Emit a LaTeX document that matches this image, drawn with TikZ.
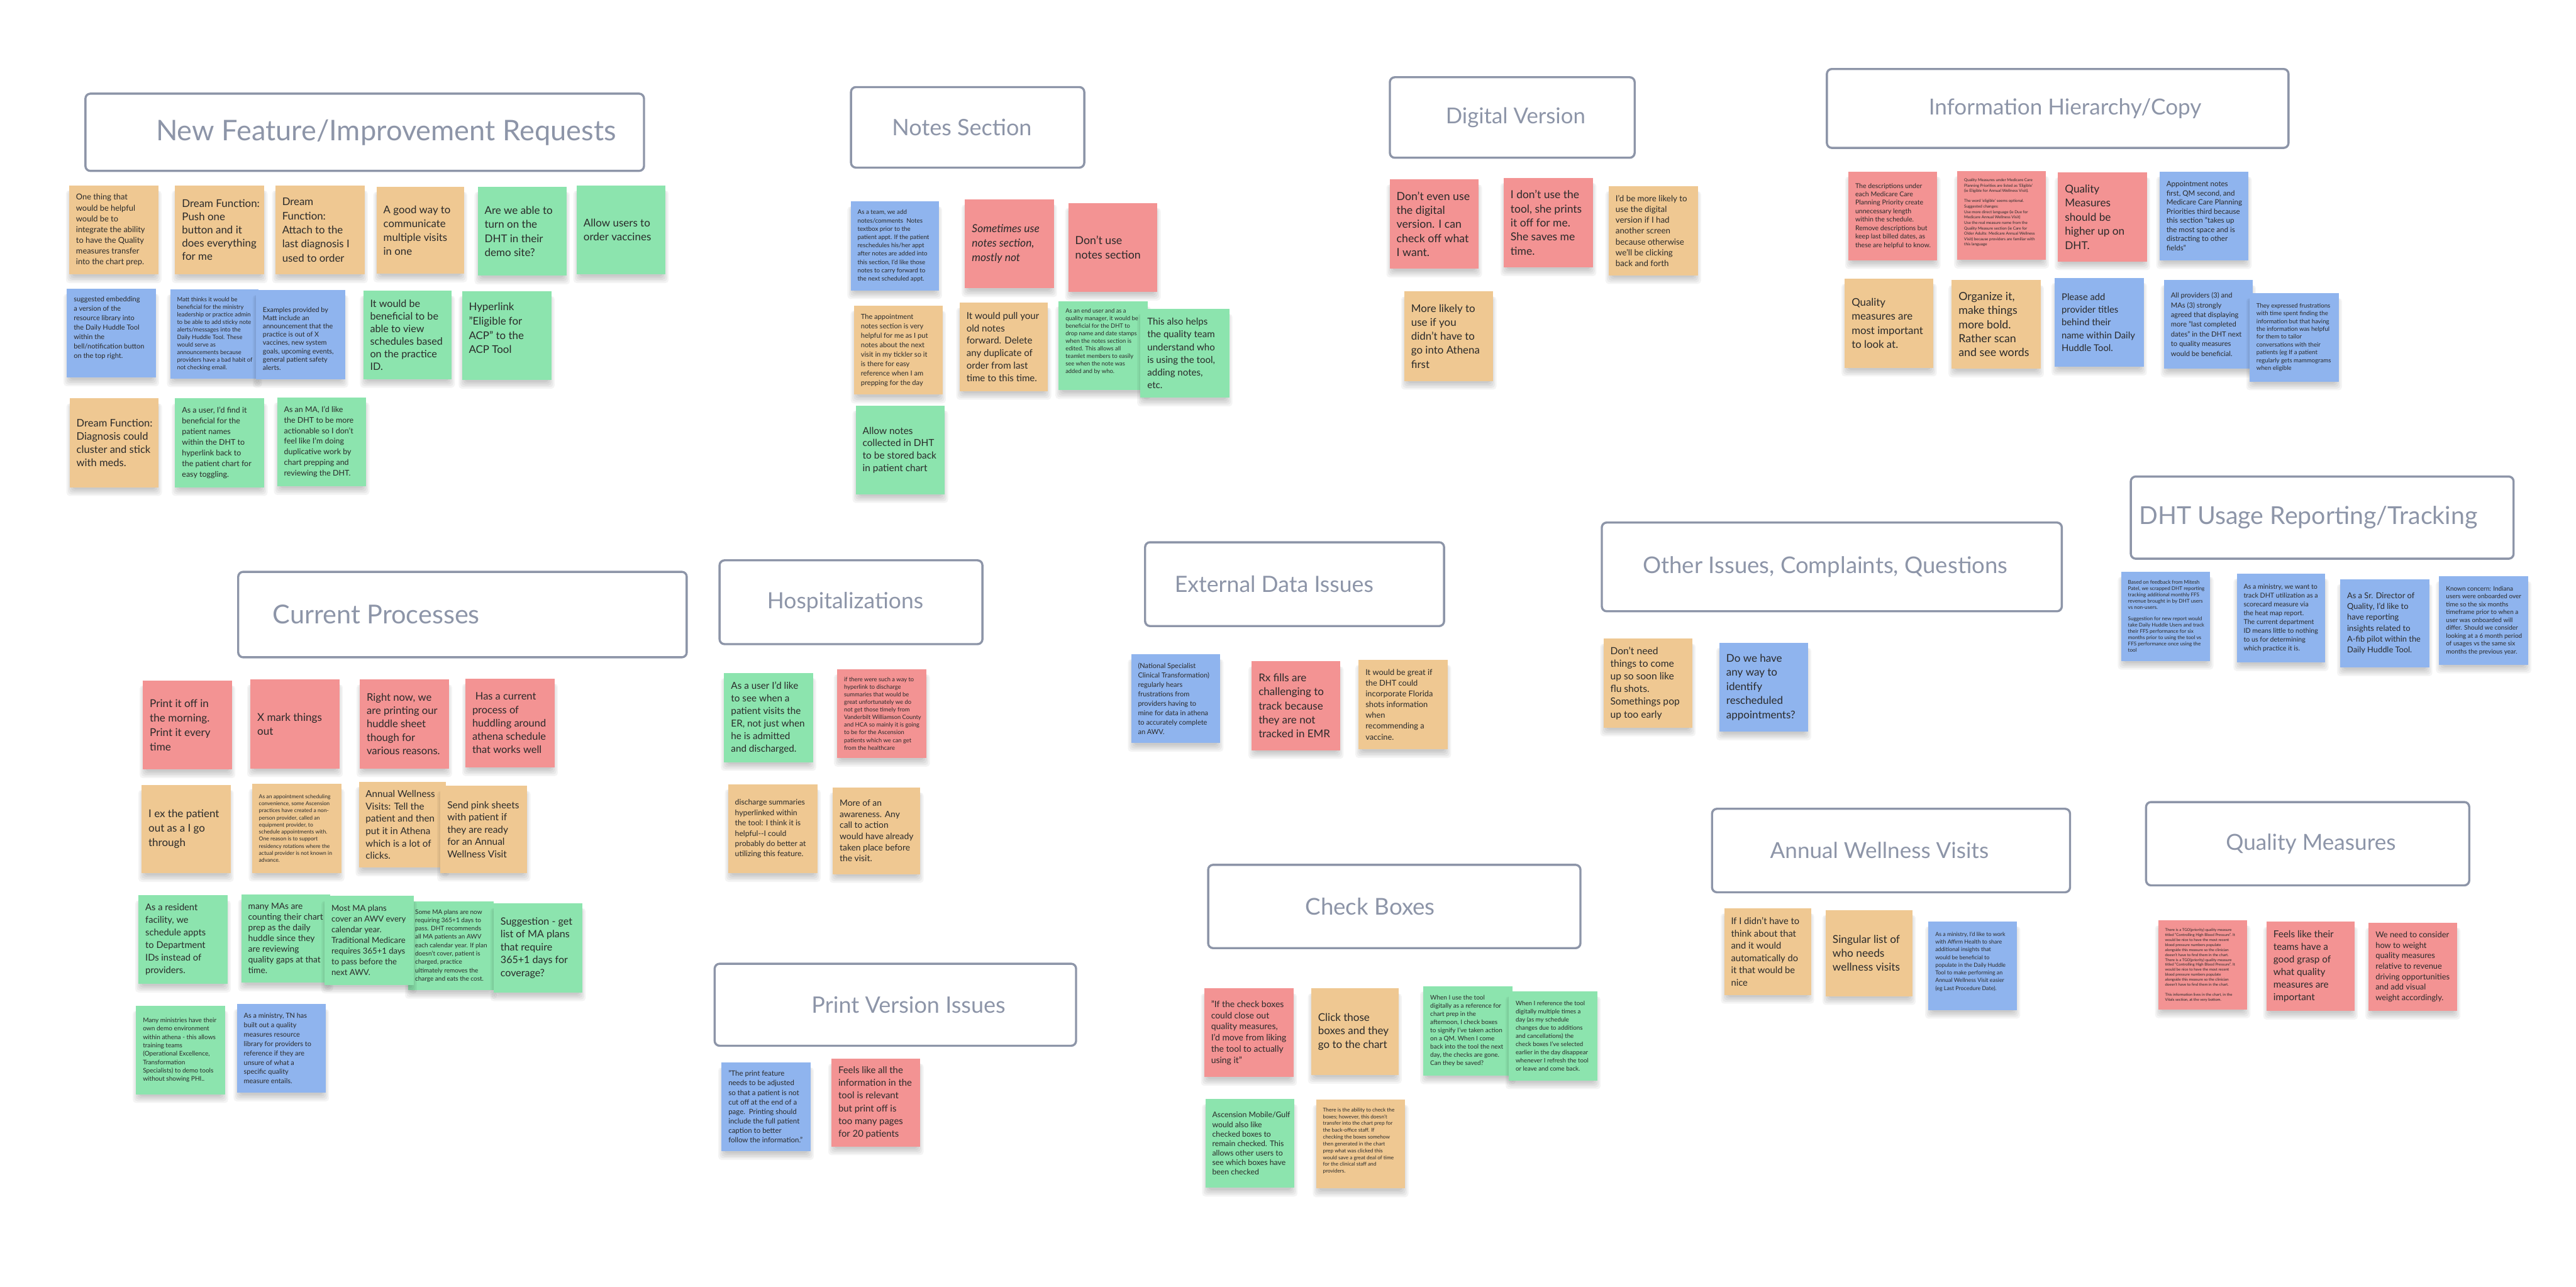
\documentclass[tikz,border=0pt]{standalone}
\usepackage{fontspec}
\setmainfont{Lato}
\usepackage{graphicx}
\definecolor{cOc}{HTML}{EFC892}
\definecolor{cGc}{HTML}{8CE4AE}
\definecolor{cBc}{HTML}{8FB4EE}
\definecolor{cRc}{HTML}{F39393}
\definecolor{ink}{HTML}{2A2A2A}
\definecolor{ttl}{HTML}{8D95A8}
\newcommand\fs[2]{\fontsize{#1}{#2}\selectfont}
\tikzset{
  stkbox/.style={rectangle,draw=none,inner sep=0pt},
  cO/.style={fill=cOc}, cG/.style={fill=cGc}, cB/.style={fill=cBc}, cR/.style={fill=cRc},
  stktxt/.style={inner sep=0pt,align=left,text=ink,anchor=west},
  ttlbox/.style={rectangle,draw=ttl,line width=1.3mm,rounded corners=3mm,fill=white,inner sep=0pt},
  ttltxt/.style={text=ttl,inner sep=0pt}
}
% sticky note: [dy]{name}{colour}{x1}{y1}{x2}{y2}{{size}{skip}}{text}
\newcommand\stk[9][0]{%
  \foreach \k in {1,2,3,4,5}{\fill[black,opacity=0.045,rounded corners=2mm]
     ({#4+2.5-0.9*\k},{#5+3}) rectangle ({#6-2.5+0.9*\k},{#7+0.3+1.0*\k});}
  \pgfmathsetmacro\stkw{#6-#4}\pgfmathsetmacro\stkh{#7-#5}%
  \node[stkbox,#3,minimum width=\stkw mm,minimum height=\stkh mm] (#2) at ({(#4+#6)/2},{(#5+#7)/2}) {};
  \node[stktxt,font={\fs#8}] (#2t) at ([xshift=4.2mm,yshift={-1*(#1)*1mm}]#2.west) {#9};
}
% title: {name}{x1}{y1}{x2}{y2}{text cx}{text width}{text}
\newcommand\ttl[8]{%
  \pgfmathsetmacro\ttw{#4-#2}\pgfmathsetmacro\tth{#5-#3}%
  \node[ttlbox,minimum width=\ttw mm,minimum height=\tth mm] (#1) at ({(#2+#4)/2},{(#3+#5)/2}) {};
  \node[ttltxt] (#1t) at (#6,{(#3+#5)/2}) {\resizebox{#7mm}{!}{\fontsize{40}{48}\selectfont #8}};
}
\begin{document}
\begin{tikzpicture}[x=1mm,y=-1mm]
\fill[white] (0,0) rectangle (1568,783);
\useasboundingbox (0,0) rectangle (1568,783);

% ---------------- titles
\ttl{t1}{52}{57}{392}{104}{235}{280}{New Feature/Improvement  Requests}
\ttl{t2}{518}{53}{660}{102}{585.5}{85}{Notes Section}
\ttl{t3}{846}{47}{995}{96}{922.5}{85}{Digital Version}
\ttl{t4}{1112}{42}{1393}{90}{1257}{166}{Information Hierarchy/Copy}
\ttl{t5}{145}{348}{418}{400}{229}{126}{Current Processes}
\ttl{t6}{438}{341}{598}{392}{514.5}{95}{Hospitalizations}
\ttl{t7}{697}{330}{879}{381}{775.5}{121}{External Data Issues}
\ttl{t8}{975}{318}{1255}{372}{1111}{222}{Other Issues, Complaints, Questions}
\ttl{t9}{1297}{290}{1530}{340}{1405}{206}{DHT Usage Reporting/Tracking}
\ttl{t10}{735.4}{526.3}{962}{577}{834}{79}{Check Boxes}
\ttl{t11}{435}{586.5}{655}{636.4}{553}{118}{Print Version Issues}
\ttl{t12}{1042.1}{492.2}{1260}{543}{1144}{133}{Annual Wellness Visits}
\ttl{t13}{1306.3}{488.1}{1503}{538.8}{1406.6}{103.4}{Quality Measures}

% ---------------- New Feature / Improvement Requests
\stk{n1}{cO}{42.1}{112.9}{96.3}{167.0}{{14}{18.6}}{One thing that\\would be helpful\\would be to\\integrate the ability\\to have the Quality\\measures transfer\\into the chart prep.}
\stk{n2}{cO}{106.6}{112.9}{160.9}{167.0}{{18.4}{22.9}}{Dream Function:\\Push one\\button and it\\does everything\\for me}
\stk{n3}{cO}{167.6}{112.9}{221.9}{167.0}{{18.3}{24.3}}{Dream\\Function:\\Attach to the\\last diagnosis I\\used to order}
\stk{n4}{cO}{229.2}{113.7}{282.4}{166.5}{{18.3}{24}}{A good way to\\communicate\\multiple visits\\in one}
\stk{n5}{cG}{290.8}{113.7}{344.9}{167.8}{{18.5}{24.4}}{Are we able to\\turn on the\\DHT in their\\demo site?}
\stk{n6}{cG}{351.0}{112.9}{405.0}{167.0}{{18.5}{24.4}}{Allow users to\\order vaccines}
\stk[-3.1]{n7}{cB}{40.7}{175.7}{94.8}{229.8}{{12}{16.3}}{suggested embedding\\a version of the\\resource library into\\the Daily Huddle Tool\\within the\\bell/notification button\\on the top right.}
\stk{n8}{cB}{103.6}{176.1}{157.5}{230.3}{{10.3}{13}}{Matt thinks it would be\\beneficial for the ministry\\leadership or practice admin\\to be able to add sticky note\\alerts/messages into the\\Daily Huddle Tool. These\\would serve as\\announcements because\\providers have a bad habit of\\not checking email.}
\stk[2.5]{n9}{cB}{155.8}{176.5}{210.0}{230.7}{{11.8}{14.3}}{Examples provided by\\Matt include an\\announcement that the\\practice is out of X\\vaccines, new system\\goals, upcoming events,\\general patient safety\\alerts.}
\stk{n10}{cG}{221.1}{176.9}{274.9}{230.7}{{17.6}{21.9}}{It would be\\beneficial to be\\able to view\\schedules based\\on the practice\\ID.}
\stk[-4.5]{n11}{cG}{281.2}{177.1}{335.6}{231.3}{{18.4}{24.6}}{Hyperlink\\"Eligible for\\ACP" to the\\ACP Tool}
\stk{n12}{cO}{42.4}{242.5}{96.6}{296.5}{{18}{22.8}}{Dream Function:\\Diagnosis could\\cluster and stick\\with meds.}
\stk{n13}{cG}{106.6}{242.5}{160.9}{296.5}{{13.6}{18.6}}{As a user, I'd find it\\beneficial for the\\patient names\\within the DHT to\\hyperlink back to\\the patient chart for\\easy toggling.}
\stk{n14}{cG}{168.7}{241.8}{222.9}{295.9}{{13.6}{18.4}}{As an MA, I'd like\\the DHT to be more\\actionable so I don't\\feel like I'm doing\\duplicative work by\\chart prepping and\\reviewing the DHT.}

% ---------------- Notes Section
\stk{b1}{cB}{517.8}{122.6}{571.4}{176.7}{{10.7}{14.4}}{As a team, we add\\notes/comments\ \ Notes\\textbox prior to the\\patient appt. If the patient\\reschedules his/her appt\\after notes are added into\\this section, I'd like those\\notes to carry forward to\\the next scheduled appt.}
\stk{r1}{cR}{587.4}{121.4}{641.4}{175.5}{{19}{24.8}}{\itshape Sometimes use\\\itshape notes section,\\\itshape mostly not}
\stk{r2}{cR}{650.3}{123.5}{704.5}{177.6}{{19.3}{24.4}}{Don't use\\notes section}
\stk{o1}{cO}{519.8}{186.1}{573.7}{240.2}{{12.1}{16.3}}{The appointment\\notes section is very\\helpful for me as I put\\notes about the next\\visit in my tickler so it\\is there for easy\\reference when I am\\prepping for the day}
\stk{o2}{cO}{584.1}{184.2}{637.9}{238.0}{{16.4}{21.7}}{It would pull your\\old notes\\forward. Delete\\any duplicate of\\order from last\\time to this time.}
\stk[-2.7]{g1}{cG}{644.4}{183.4}{698.6}{237.5}{{10.2}{13}}{As an end user and as a\\quality manager, it would be\\beneficial for the DHT to\\drop name and date stamps\\when the notes section is\\edited. This allows all\\teamlet members to easily\\see when the note was\\added and by who.}
\stk{g2}{cG}{694.2}{188.0}{748.2}{242.0}{{16.4}{21.9}}{This also helps\\the quality team\\understand who\\is using the tool,\\adding notes,\\etc.}
\stk{g3}{cG}{520.9}{246.8}{575.1}{300.8}{{16.8}{21.4}}{Allow notes\\collected in DHT\\to be stored back\\in patient chart}

% ---------------- Digital Version
\stk{d1}{cR}{845.9}{109.2}{900.1}{163.5}{{19.3}{24.3}}{Don’t even use\\the digital\\version. I can\\check off what\\I want.}
\stk{d2}{cR}{915.3}{108.3}{969.7}{162.7}{{19}{24.3}}{I don’t use the\\tool, she prints\\it off for me.\\She saves me\\time.}
\stk{d3}{cO}{979.2}{113.3}{1033.4}{167.5}{{14.5}{18.8}}{I'd be more likely to\\use the digital\\version if I had\\another screen\\because otherwise\\we'll be clicking\\back and forth}
\stk{d4}{cO}{854.8}{177.4}{908.9}{231.8}{{18.4}{24.3}}{More likely to\\use if you\\didn’t have to\\go into Athena\\first}

% ---------------- Information Hierarchy/Copy
\stk{i1}{cR}{1125.1}{104.4}{1179.2}{158.4}{{11.5}{14.7}}{The descriptions under\\each Medicare Care\\Planning Priority create\\unnecessary length\\within the schedule.\\Remove descriptions but\\keep last billed dates, as\\these are helpful to know.}
\stk[-1.7]{i2}{cR}{1191.4}{104.1}{1245.2}{158.1}{{6.9}{9.4}}{Quality Measures under Medicare Care\\Planning Priorities are listed as 'Eligible'\\(ie Eligible for Annual Wellness Visit).\\[2.8mm]The word 'eligible' seems optional.\\Suggested changes:\\Use more direct language (ie Due for\\Medicare Annual Wellness Visit)\\Use the real measure name from the\\Quality Measure section (ie Care for\\Older Adults: Medicare Annual Wellness\\Visit) because providers are familiar with\\this language}
\stk{i3}{cR}{1252.7}{104.9}{1306.8}{159.1}{{18.7}{24.5}}{Quality\\Measures\\should be\\higher up on\\DHT.}
\stk{i4}{cB}{1314.5}{104.4}{1368.6}{158.4}{{12.6}{15.8}}{Appointment notes\\first, QM second, and\\Medicare Care Planning\\Priorities third because\\this section "takes up\\the most space and is\\distracting to other\\fields"}
\stk{i5}{cO}{1122.9}{169.6}{1176.9}{223.8}{{18.3}{24.5}}{Quality\\measures are\\most important\\to look at.}
\stk{i6}{cO}{1188.0}{170.5}{1242.1}{224.3}{{19.4}{24.2}}{Organize it,\\make things\\more bold.\\Rather scan\\and see words}
\stk{i7}{cB}{1250.7}{169.1}{1304.8}{223.3}{{16.1}{21.9}}{Please add\\provider titles\\behind their\\name within Daily\\Huddle Tool.}
\stk{i8}{cB}{1317.2}{170.5}{1371.2}{224.3}{{12.2}{16.8}}{All providers (3) and\\MAs (3) strongly\\agreed that displaying\\more "last completed\\dates" in the DHT next\\to quality measures\\would be beneficial.}
\stk{i9}{cB}{1369.3}{178.4}{1423.5}{232.2}{{10.5}{13.5}}{They expressed frustrations\\with time spent finding the\\information but that having\\the information was helpful\\for them to tailor\\conversations with their\\patients (eg If a patient\\regularly gets mammograms\\when eligible}

% ---------------- Current Processes
\stk{c1}{cR}{87.0}{414.1}{141.2}{468.3}{{18.6}{24.9}}{Print it off in\\the morning.\\Print it every\\time}
\stk{c2}{cR}{152.4}{413.5}{206.7}{467.6}{{18.6}{24}}{X mark things\\out}
\stk{c3}{cR}{219.0}{413.5}{273.2}{467.6}{{18.1}{23.1}}{Right now, we\\are printing our\\huddle sheet\\though for\\various reasons.}
\stk{c4}{cR}{283.3}{413.0}{337.6}{467.0}{{17.9}{23}}{\hspace*{0.3em}Has a current\\process of\\huddling around\\athena schedule\\that works well}
\stk{c5}{cO}{86.2}{477.7}{140.3}{531.4}{{18.5}{24.8}}{I ex the patient\\out as a I go\\through}
\stk{c6}{cO}{153.4}{477.0}{207.7}{531.2}{{9.4}{12.2}}{As an appointment scheduling\\convenience, some Ascension\\practices have created a non-\\person provider, called an\\equipment provider, to\\schedule appointments with.\\One reason is to support\\residency rotations where the\\actual provider is not known in\\advance.}
\stk{c7}{cO}{218.4}{475.8}{271.5}{528.0}{{16.5}{21.4}}{Annual Wellness\\Visits: Tell the\\patient and then\\put it in Athena\\which is a lot of\\clicks.}
\stk{c8}{cO}{268.1}{478.3}{320.9}{531.2}{{16.8}{21.2}}{Send pink sheets\\with patient if\\they are ready\\for an Annual\\Wellness Visit}
\stk{c9}{cG}{84.3}{544.9}{138.5}{598.7}{{16}{21.8}}{As a resident\\facility, we\\schedule appts\\to Department\\IDs instead of\\providers.}
\stk{c10}{cG}{146.9}{544.3}{200.8}{598.0}{{15}{18.5}}{many MAs are\\counting their chart\\prep as the daily\\huddle since they\\are reviewing\\quality gaps at that\\time.}
\stk{c12}{cG}{248.5}{548.6}{300.5}{602.5}{{10.9}{14.5}}{Some MA plans are now\\requiring 365+1 days to\\pass. DHT recommends\\all MA patients an AWV\\each calendar year. If plan\\doesn't cover, patient is\\charged, practice\\ultimately removes the\\charge and eats the cost.}
\stk{c11}{cG}{197.6}{545.3}{251.8}{599.3}{{14.3}{18.5}}{Most MA plans\\cover an AWV every\\calendar year.\\Traditional Medicare\\requires 365+1 days\\to pass before the\\next AWV.}
\stk{c13}{cG}{300.5}{549.6}{354.5}{604.0}{{17.5}{22.4}}{Suggestion - get\\list of MA plans\\that require\\365+1 days for\\coverage?}
\stk{c14}{cG}{82.8}{612.1}{136.9}{665.9}{{11}{14.5}}{Many ministries have their\\own demo environment\\within athena - this allows\\training teams\\(Operational Excellence,\\Transformation\\Specialists) to demo tools\\without showing PHI..}
\stk{c15}{cB}{144.2}{611.1}{198.3}{665.0}{{11.9}{16.2}}{As a ministry, TN has\\built out a quality\\measures resource\\library for providers to\\reference if they are\\unsure of what a\\specific quality\\measure entails.}

% ---------------- Hospitalizations
\stk{h1}{cG}{440.8}{409.6}{494.8}{463.8}{{16.6}{21.7}}{As a user I'd like\\to see when a\\patient visits the\\ER, not just when\\he is admitted\\and discharged.}
\stk{h2}{cR}{509.6}{407.3}{564.0}{461.3}{{10.2}{13.1}}{if there were such a way to\\hyperlink to discharge\\summaries that would be\\great unfortunately we do\\not get those timely from\\Vanderbilt Williamson County\\and HCA so mainly it is going\\to be for the Ascension\\patients which we can get\\from the healthcare}
\stk{h3}{cO}{443.2}{477.3}{497.5}{531.4}{{13.3}{17.9}}{discharge summaries\\hyperlinked within\\the tool: I think it is\\helpful{-}{-}I could\\probably do better at\\utilizing this feature.}
\stk{h4}{cO}{506.9}{479.2}{560.2}{532.0}{{15.1}{19.1}}{More of an\\awareness. Any\\call to action\\would have already\\taken place before\\the visit.}

% ---------------- Print Version Issues
\stk{p1}{cB}{439.2}{646.5}{493.4}{700.6}{{12.5}{16.5}}{"The print feature\\needs to be adjusted\\so that a patient is not\\cut off at the end of a\\page.\ \ Printing should\\include the full patient\\caption to better\\follow the information."}
\stk{p2}{cR}{506.1}{644.2}{560.2}{697.7}{{16.2}{22}}{Feels like all the\\information in the\\tool is relevant\\but print off is\\too many pages\\for 20 patients}

% ---------------- External Data Issues
\stk{e1}{cB}{688.5}{398.1}{742.7}{452.2}{{12}{16.3}}{(National Specialist\\Clinical Transformation)\\regularly hears\\frustrations from\\providers having to\\mine for data in athena\\to accurately complete\\an AWV.}
\stk{e2}{cR}{761.9}{402.5}{815.8}{456.5}{{18.5}{24.3}}{Rx fills are\\challenging to\\track because\\they are not\\tracked in EMR}
\stk{e3}{cO}{827.0}{401.6}{881.3}{456.0}{{14}{18.6}}{It would be great if\\the DHT could\\incorporate Florida\\shots information\\when\\recommending a\\vaccine.}

% ---------------- Check Boxes
\stk{k1}{cR}{733.0}{601.5}{787.4}{655.5}{{15.2}{19.4}}{"If the check boxes\\could close out\\quality measures,\\I'd move from liking\\the tool to actually\\using it"}
\stk{k2}{cO}{798.1}{601.5}{851.2}{654.2}{{18.5}{23.7}}{Click those\\boxes and they\\go to the chart}
\stk{k3}{cG}{866.4}{600.2}{920.6}{654.5}{{10.9}{14.1}}{When I use the tool\\digitally as a reference for\\chart prep in the\\afternoon, I check boxes\\to signify I've taken action\\on a QM. When I come\\back into the tool the next\\day, the checks are gone.\\Can they be saved?}
\stk{k4}{cG}{918.4}{603.4}{972.3}{657.5}{{10.6}{14.1}}{When I reference the tool\\digitally multiple times a\\day (as my schedule\\changes due to additions\\and cancellations) the\\check boxes I've selected\\earlier in the day disappear\\whenever I refresh the tool\\or leave and come back.}
\stk{k5}{cG}{733.7}{668.9}{787.8}{722.9}{{13.4}{16.5}}{Ascension Mobile/Gulf\\would also like\\checked boxes to\\remain checked. This\\allows other users to\\see which boxes have\\been checked}
\stk[-2]{k6}{cO}{801.1}{669.3}{855.3}{723.3}{{9}{11.8}}{There is the ability to check the\\boxes; however, this doesn't\\transfer into the chart prep for\\the back-office staff. If\\checking the boxes somehow\\then generated in the chart\\prep what was clicked this\\would save a great deal of time\\for the clinical staff and\\providers.}

% ---------------- Other Issues
\stk{q1}{cO}{976.0}{388.7}{1030.1}{442.8}{{17}{22}}{Don’t need\\things to come\\up so soon like\\flu shots.\\Somethings pop\\up too early}
\stk{q2}{cB}{1046.6}{391.2}{1100.5}{445.2}{{18.5}{24.5}}{Do we have\\any way to\\identify\\rescheduled\\appointments?}

% ---------------- Annual Wellness Visits
\stk{a1}{cO}{1049.5}{552.8}{1102.3}{605.5}{{16}{21.2}}{If I didn’t have to\\think about that\\and it would\\automatically do\\it that would be\\nice}
\stk{a2}{cO}{1111.3}{553.8}{1164.1}{606.3}{{18.8}{24.2}}{Singular list of\\who needs\\wellness visits}
\stk[-2.5]{a3}{cB}{1173.8}{560.7}{1227.7}{614.6}{{9.7}{13.4}}{As a ministry, I'd like to work\\with Affirm Health to share\\additional insights that\\would be beneficial to\\populate in the Daily Huddle\\Tool to make performing an\\Annual Wellness Visit easier\\(eg Last Procedure Date).}

% ---------------- DHT Usage Reporting/Tracking
\stk{u1}{cB}{1291.1}{348.0}{1345.3}{402.2}{{8.9}{10.9}}{Based on feedback from Mitesh\\Patel, we scrapped DHT reporting\\tracking additional monthly FFS\\revenue brought in by DHT users\\vs non-users.\\[3.1mm]Suggestion for new report would\\take Daily Huddle Users and track\\their FFS performance for six\\months prior to using the tool vs\\FFS performance once using the\\tool}
\stk{u2}{cB}{1361.5}{349.1}{1415.4}{403.1}{{11.6}{15.3}}{As a ministry, we want to\\track DHT utilization as a\\scorecard measure via\\the heat map report.\\The current department\\ID means little to nothing\\to us for determining\\which practice it is.}
\stk{u3}{cB}{1424.5}{352.4}{1478.6}{406.2}{{14}{18.9}}{As a Sr. Director of\\Quality, I'd like to\\have reporting\\insights related to\\A-fib pilot within the\\Daily Huddle Tool.}
\stk{u4}{cB}{1484.7}{350.6}{1538.8}{404.5}{{10.9}{13.6}}{Known concern: Indiana\\users were onboarded over\\time so the six months\\timeframe prior to when a\\user was onboarded will\\differ. Should we consider\\looking at a 6 month period\\of usages vs the same six\\months the previous year.}

% ---------------- Quality Measures
\stk{m1}{cR}{1313.7}{560.1}{1367.8}{614.3}{{6.6}{8.65}}{There is a TGO(priority) quality measure\\titled "Controlling High Blood Pressure". It\\would be nice to have the most recent\\blood pressure numbers populate\\alongside this measure so the clinician\\doesn't have to find them in the chart.\\There is a TGO(priority) quality measure\\titled "Controlling High Blood Pressure". It\\would be nice to have the most recent\\blood pressure numbers populate\\alongside this measure so the clinician\\doesn't have to find them in the chart.\\[2.9mm]This information lives in the chart, in the\\Vitals section, at the very bottom.}
\stk{m2}{cR}{1379.6}{561.0}{1433.2}{615.2}{{16.6}{21.9}}{Feels like their\\teams have a\\good grasp of\\what quality\\measures are\\important}
\stk{m3}{cR}{1441.8}{561.5}{1495.6}{615.2}{{14}{18.1}}{We need to consider\\how to weight\\quality measures\\relative to revenue\\driving opportunities\\and add visual\\weight accordingly.}
\end{tikzpicture}
\end{document}
